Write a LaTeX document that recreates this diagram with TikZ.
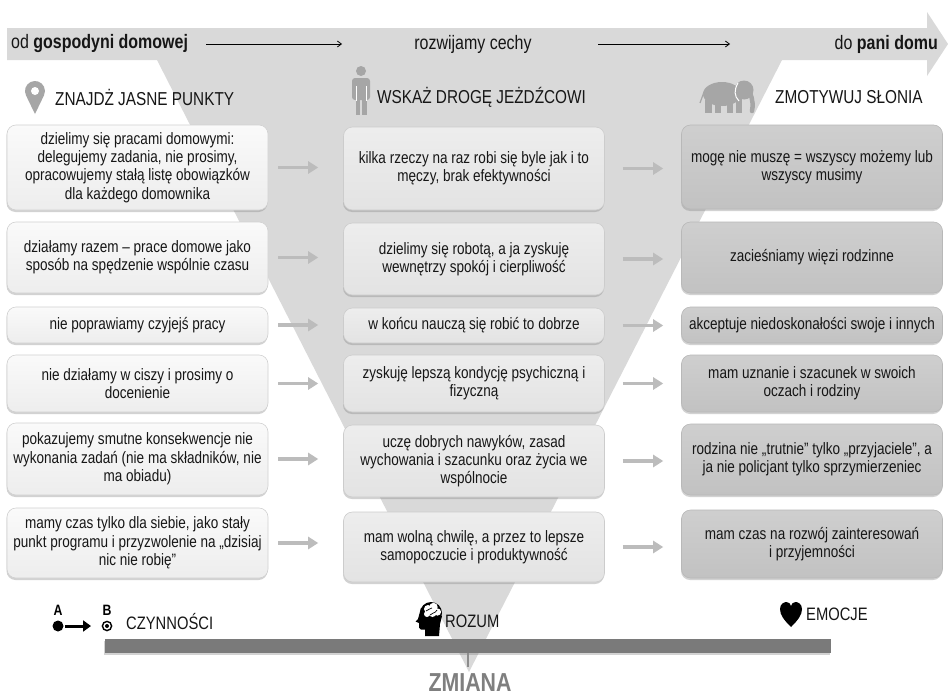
\documentclass[tikz,border=0pt]{standalone}
\usepackage{fontspec}
\setmainfont[FakeStretch=0.82]{Liberation Sans}
\usetikzlibrary{shadows,arrows.meta}
\definecolor{bandc}{HTML}{D9D9D9}
\definecolor{txtc}{HTML}{161616}
\definecolor{iconc}{HTML}{A6A6A6}
\definecolor{arrc}{HTML}{BCBCBC}
\definecolor{barc}{HTML}{7A7A7A}
\definecolor{zmc}{HTML}{7F7F7F}
\newcommand\bxf{\fontsize{16.5}{18.3}\selectfont}
\newcommand\hdf{\fontsize{18.7}{20}\selectfont}
\newcommand\tpf{\fontsize{19.5}{21}\selectfont}
\newcommand\lblf{\fontsize{18}{20}\selectfont}
\newcommand\zmf{\fontsize{26}{28}\selectfont\bfseries}
\newcommand\abf{\fontsize{15}{15}\selectfont\bfseries}
\tikzset{
  boxbase/.style={rounded corners=9pt, align=center, font=\bxf, text=txtc, inner sep=0pt,
    minimum width=261pt, line width=0.6pt,
    drop shadow={opacity=0.35, shadow xshift=-0.5pt, shadow yshift=-2pt}},
  lbox/.style={boxbase, draw=black!18, top color=black!2, bottom color=black!7},
  mbox/.style={boxbase, draw=black!20, top color=black!7, bottom color=black!11},
  rbox/.style={boxbase, draw=black!28, top color=black!19, bottom color=black!24},
  garrow/.style={arrc, line width=3.5pt, -{Triangle[length=10pt,width=12pt]}},
  topar/.style={black, line width=0.8pt, -{Straight Barb[length=4pt,width=6pt]}},
  hdr/.style={anchor=west, font=\hdf, text=txtc, inner sep=0pt},
  lbl/.style={anchor=west, font=\lblf, text=txtc, inner sep=0pt}
}
\begin{document}
\begin{tikzpicture}[x=1pt,y=-1pt]
\useasboundingbox (0,0) rectangle (948,696);
\fill[white] (0,0) rectangle (948,696);
% band and funnel
\fill[bandc] (7,28) -- (927,28) -- (927,12) -- (948,44) -- (927,76) -- (927,60) -- (7,60) -- cycle;
\fill[bandc] (157,60) -- (782,60) -- (469,672) -- cycle;
% bottom bar
\fill[barc, drop shadow={opacity=0.35, shadow xshift=-1pt, shadow yshift=-2pt}] (105,639) rectangle (831,653);
\draw[line width=2pt, color=black!45] (468,653) -- (468,667);

% top texts
\node[anchor=west, font=\tpf, text=txtc, inner sep=0pt] (tl) at (11,44) {od \textbf{gospodyni domowej}};
\node[font=\tpf, text=txtc, inner sep=0pt] (tm) at (473,44) {rozwijamy cechy};
\node[anchor=east, font=\tpf, text=txtc, inner sep=0pt] (tr) at (938,44) {do \textbf{pani domu}};
\coordinate (a1s) at (206,44); \coordinate (a1e) at (342,44);
\coordinate (a2s) at (598,44); \coordinate (a2e) at (730,44);
\draw[topar] (a1s) -- (a1e);
\draw[topar] (a2s) -- (a2e);

% header icons
% pin
\fill[iconc] (35,114) -- (26.0,95.4) arc[start angle=154, end angle=386, radius=10] -- cycle;
\fill[white] (35,91) circle[radius=4];
% person
\fill[iconc] (361,71) circle[radius=5];
\fill[iconc, rounded corners=3pt] (352,78) rectangle (370,100);
\fill[iconc] (355.5,96) rectangle (360.3,115);
\fill[iconc] (361.7,96) rectangle (366.5,115);
\draw[white, line width=0.8pt] (356,86) -- (356,101);
\draw[white, line width=0.8pt] (366,86) -- (366,101);
% elephant
\fill[iconc] (722,94) ellipse[x radius=19, y radius=12];
\fill[iconc] (744,90) circle[radius=9.5];
\draw[iconc, line width=4.5pt, line cap=round] (750,93) .. controls (753,100) and (753,106) .. (752,111);
\fill[iconc] (705,100) rectangle (712,113);
\fill[iconc] (715,100) rectangle (721,113);
\fill[iconc] (727,100) rectangle (733,113);
\fill[iconc] (736,98) rectangle (742,113);
\draw[iconc, line width=1.2pt] (704,92) -- (700,103);
\draw[white, line width=1pt] (738,83) .. controls (734,90) and (734,96) .. (739,101);

% headers
\node[hdr] (h1) at (55,97) {ZNAJDŻ JASNE PUNKTY};
\node[hdr] (h2) at (377,97) {WSKAŻ DROGĘ JEŻDŹCOWI};
\node[hdr] (h3) at (775,97) {ZMOTYWUJ SŁONIA};

% left column
\node[lbox, minimum height=85pt] (L1) at (137.5,167.5) {dzielimy się pracami domowymi:\\delegujemy zadania, nie prosimy,\\opracowujemy stałą listę obowiązków\\dla każdego domownika};
\node[lbox, minimum height=71pt] (L2) at (137.5,257.5) {działamy razem – prace domowe jako\\sposób na spędzenie wspólnie czasu};
\node[lbox, minimum height=36pt] (L3) at (137.5,325) {nie poprawiamy czyjejś pracy};
\node[lbox, minimum height=57pt] (L4) at (137.5,383.5) {nie działamy w ciszy i prosimy o\\docenienie};
\node[lbox, minimum height=72pt] (L5) at (137.5,459) {pokazujemy smutne konsekwencje nie\\wykonania zadań (nie ma składników, nie\\ma obiadu)};
\node[lbox, minimum height=70pt] (L6) at (137.5,543) {mamy czas tylko dla siebie, jako stały\\punkt programu i przyzwolenie na „dzisiaj\\nic nie robię”};

% middle column
\node[mbox, minimum height=83pt] (M1) at (474,168.5) {kilka rzeczy na raz robi się byle jak i to\\męczy, brak efektywności};
\node[mbox, minimum height=72pt] (M2) at (474,259) {dzielimy się robotą, a ja zyskuję\\wewnętrzy spokój i cierpliwość};
\node[mbox, minimum height=35pt] (M3) at (474,325.5) {w końcu nauczą się robić to dobrze};
\node[mbox, minimum height=57pt] (M4) at (474,383.5) {zyskuję lepszą kondycję psychiczną i\\fizyczną};
\node[mbox, minimum height=72pt] (M5) at (474,461) {uczę dobrych nawyków, zasad\\wychowania i szacunku oraz życia we\\wspólnocie};
\node[mbox, minimum height=70pt] (M6) at (474,547) {mam wolną chwilę, a przez to lepsze\\samopoczucie i produktywność};

% right column
\node[rbox, minimum height=84pt] (R1) at (812,167) {mogę nie muszę = wszyscy możemy lub\\wszyscy musimy};
\node[rbox, minimum height=71pt] (R2) at (812,257.5) {zacieśniamy więzi rodzinne};
\node[rbox, minimum height=36pt] (R3) at (812,325) {akceptuje niedoskonałości swoje i innych};
\node[rbox, minimum height=57pt] (R4) at (812,383.5) {mam uznanie i szacunek w swoich\\oczach i rodziny};
\node[rbox, minimum height=71pt] (R5) at (812,459.5) {rodzina nie „trutnie” tylko „przyjaciele”, a\\ja nie policjant tylko sprzymierzeniec};
\node[rbox, minimum height=68pt] (R6) at (812,544) {mam czas na rozwój zainteresowań\\i przyjemności};

% arrows
\foreach \i in {1,...,6}{
  \draw[garrow, shorten <=10pt, shorten >=25pt] (L\i.east) -- (M\i.west |- L\i.east);
  \draw[garrow, shorten <=18pt, shorten >=18pt] (M\i.east) -- (R\i.west |- M\i.east);
}

% bottom icons
\node[font=\abf, inner sep=0pt] (iA) at (58,610) {A};
\fill (58,626) circle[radius=5.5];
\coordinate (abS) at (65,626); \coordinate (abE) at (91,626);
\draw[line width=3pt, -{Triangle[length=8pt,width=11pt]}] (abS) -- (abE);
\node[font=\abf, inner sep=0pt] (iB) at (107,610) {B};
\draw[line width=1.4pt] (107,626) circle[radius=4.6];
\fill (107,626) circle[radius=2];
% head with brain
\fill (431,613) circle[radius=11];
\fill (421,608) -- (418,619) -- (415.5,621.5) -- (419,623) -- (419,627.5) -- (421,629.5) -- (425,629.5) -- (425,636) -- (439,636) -- (440,624) -- (442,616) -- cycle;
\fill[white] (428,609) circle[radius=4];
\fill[white] (433.5,607) circle[radius=4.2];
\fill[white] (437.5,612) circle[radius=3.6];
\fill[white] (432.5,613) circle[radius=4];
\fill[white] (427,614) circle[radius=3];
\draw[line width=0.7pt] (426,611) .. controls (428,608) and (431,610) .. (432,608);
\draw[line width=0.7pt] (430,615) .. controls (432,612) and (435,614) .. (437,610);
% heart
\fill (791,627) .. controls (784,620) and (780,615) .. (780,609) .. controls (780,604) and (784,602) .. (786.5,602) .. controls (789,602) and (790.5,604) .. (791,606) .. controls (791.5,604) and (793,602) .. (795.5,602) .. controls (798,602) and (802,604) .. (802,609) .. controls (802,615) and (798,620) .. (791,627) -- cycle;

% bottom labels
\node[lbl] (b1) at (126,622) {CZYNNOŚCI};
\node[lbl] (b2) at (445,621) {ROZUM};
\node[lbl] (b3) at (806,614) {EMOCJE};
\node[font=\zmf, text=zmc, inner sep=0pt] (zm) at (470,683) {ZMIANA};
\end{tikzpicture}
\end{document}
